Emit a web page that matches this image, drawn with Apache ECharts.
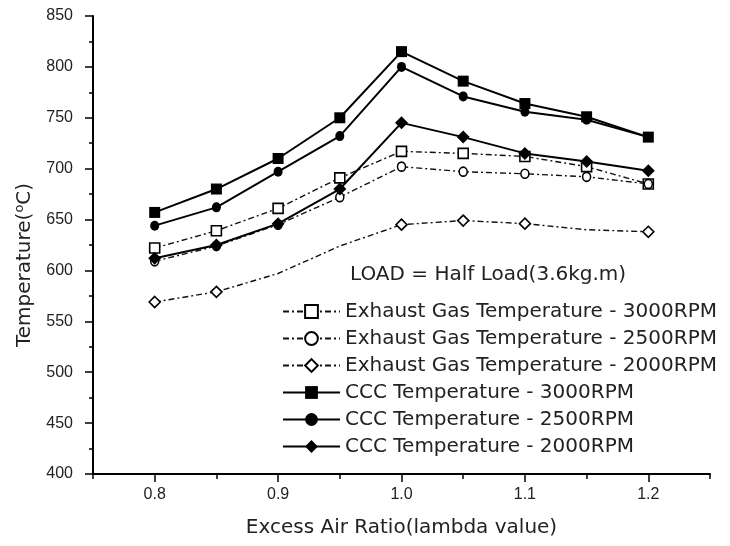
<!DOCTYPE html>
<html>
<head>
<meta charset="utf-8">
<script src="https://cdn.jsdelivr.net/npm/echarts@6/dist/echarts.min.js"></script>
<style>html,body{margin:0;padding:0;background:#fff}#c{width:730px;height:546px}</style>
</head>
<body>
<div id="c"></div>
<script>
// ---- data ----
const lambdaValues = [0.8, 0.85, 0.9, 0.95, 1.0, 1.05, 1.1, 1.15, 1.2];
const exh3000 = [622, 639, 661, 691, 717, 715, 712, 702, 685];
const exh2500 = [609, 624, 645, 672, 702, 697, 695, 692, 685];
const exh2000 = [569, 579, 597, 624, 645, 649, 646, 640, 638];
const exh2000NoMarkerIdx = [2, 3, 7];
const ccc3000 = [657, 680, 710, 750, 815, 786, 764, 751, 731];
const ccc2500 = [644, 662, 697, 732, 800, 771, 756, 748, 731];
const ccc2000 = [612, 625, 646, 680, 745, 731, 715, 707, 698];
const seriesNames = [
  'Exhaust Gas Temperature - 3000RPM',
  'Exhaust Gas Temperature - 2500RPM',
  'Exhaust Gas Temperature - 2000RPM',
  'CCC Temperature - 3000RPM',
  'CCC Temperature - 2500RPM',
  'CCC Temperature - 2000RPM'
];
const loadText = 'LOAD = Half Load(3.6kg.m)';
const xTitle = 'Excess Air Ratio(lambda value)';
const yTitle = 'Temperature({sup|o}C)';

// ---- layout ----
const X_MIN = 0.75, X_MAX = 1.25;
const GL = 93, GR = 20, GT = 16, GB = 72;
const plotW = 730 - GL - GR;
const pxPerUnit = plotW / (X_MAX - X_MIN);
const g1Left = GL + (0.8 - X_MIN) * pxPerUnit;
const g1Right = GR + (X_MAX - 1.2) * pxPerUnit;

function pairs(vals, hidden) {
  return vals.map((v, i) => {
    const item = { value: [lambdaValues[i], v] };
    if (hidden && hidden.indexOf(i) >= 0) item.symbol = 'none';
    return item;
  });
}

const openItem = { color: '#fff', borderColor: '#000', borderWidth: 1.6 };
const filledItem = { color: '#000', borderColor: '#000', borderWidth: 0 };
const dashLine = { color: '#111', width: 1.4, type: [6, 3, 2, 3] };
const solidLine = { color: '#000', width: 2, type: 'solid' };

const series = [
  { name: seriesNames[0], data: pairs(exh3000), symbol: 'rect', symbolSize: 10, itemStyle: openItem, lineStyle: dashLine },
  { name: seriesNames[1], data: pairs(exh2500), symbol: 'circle', symbolSize: [8, 9], itemStyle: openItem, lineStyle: dashLine },
  { name: seriesNames[2], data: pairs(exh2000, exh2000NoMarkerIdx), symbol: 'diamond', symbolSize: 11, itemStyle: openItem, lineStyle: dashLine },
  { name: seriesNames[3], data: pairs(ccc3000), symbol: 'rect', symbolSize: 11, itemStyle: filledItem, lineStyle: solidLine },
  { name: seriesNames[4], data: pairs(ccc2500), symbol: 'circle', symbolSize: [9, 10], itemStyle: filledItem, lineStyle: solidLine },
  { name: seriesNames[5], data: pairs(ccc2000), symbol: 'diamond', symbolSize: 13, itemStyle: filledItem, lineStyle: solidLine }
].map(s => Object.assign({ type: 'line', xAxisIndex: 0, yAxisIndex: 0, showAllSymbol: true, emphasis: { disabled: true } }, s));

const labelFont = { fontFamily: 'Liberation Sans', fontSize: 16, color: '#222' };
const textFont = 'DejaVu Sans';

const chart = echarts.init(document.getElementById('c'), null, { renderer: 'canvas' });
chart.setOption({
  animation: false,
  backgroundColor: '#fff',
  title: {
    text: loadText, left: 350, top: 265, padding: 0,
    textStyle: { fontFamily: textFont, fontSize: 20, fontWeight: 'normal', color: '#222' }
  },
  legend: {
    data: seriesNames, orient: 'vertical', left: 282, top: 301, padding: 0,
    itemWidth: 57, itemHeight: 16, itemGap: 6, selectedMode: false,
    textStyle: { fontFamily: textFont, fontSize: 20, color: '#222', lineHeight: 21 }
  },
  grid: [
    { left: GL, right: GR, top: GT, bottom: GB },
    { left: g1Left, right: g1Right, top: GT, bottom: GB }
  ],
  xAxis: [
    {
      type: 'value', gridIndex: 0, min: X_MIN, max: X_MAX, interval: 0.05,
      name: xTitle, nameLocation: 'middle', nameGap: 44,
      nameTextStyle: { fontFamily: textFont, fontSize: 20, color: '#222' },
      axisLine: { lineStyle: { color: '#000', width: 2 } },
      axisTick: { show: true, inside: false, length: 5, lineStyle: { color: '#000', width: 1.5 } },
      axisLabel: { show: false },
      splitLine: { show: false }
    },
    {
      type: 'value', gridIndex: 1, min: 0.8, max: 1.2, interval: 0.1,
      axisLine: { show: false },
      axisTick: { show: true, inside: false, length: 8, lineStyle: { color: '#000', width: 1.5 } },
      axisLabel: Object.assign({ margin: 13, formatter: v => v.toFixed(1) }, labelFont),
      splitLine: { show: false }
    }
  ],
  yAxis: [
    {
      type: 'value', gridIndex: 0, min: 400, max: 850, interval: 50,
      name: yTitle, nameLocation: 'middle', nameGap: 52, nameRotate: 90,
      nameTextStyle: {
        fontFamily: textFont, fontSize: 20, color: '#222', lineHeight: 22, padding: [0, 40, 0, 0],
        rich: { sup: { fontFamily: textFont, fontSize: 13, color: '#222', verticalAlign: 'top', lineHeight: 12 } }
      },
      axisLine: { show: true, lineStyle: { color: '#000', width: 2 } },
      axisTick: { show: true, inside: false, length: 8, lineStyle: { color: '#000', width: 1.5 } },
      minorTick: { show: true, splitNumber: 2, length: 4, lineStyle: { color: '#000', width: 1.5 } },
      axisLabel: Object.assign({ margin: 20 }, labelFont),
      splitLine: { show: false }
    },
    { type: 'value', gridIndex: 1, min: 400, max: 850, show: false }
  ],
  series: series
});
</script>
</body>
</html>
